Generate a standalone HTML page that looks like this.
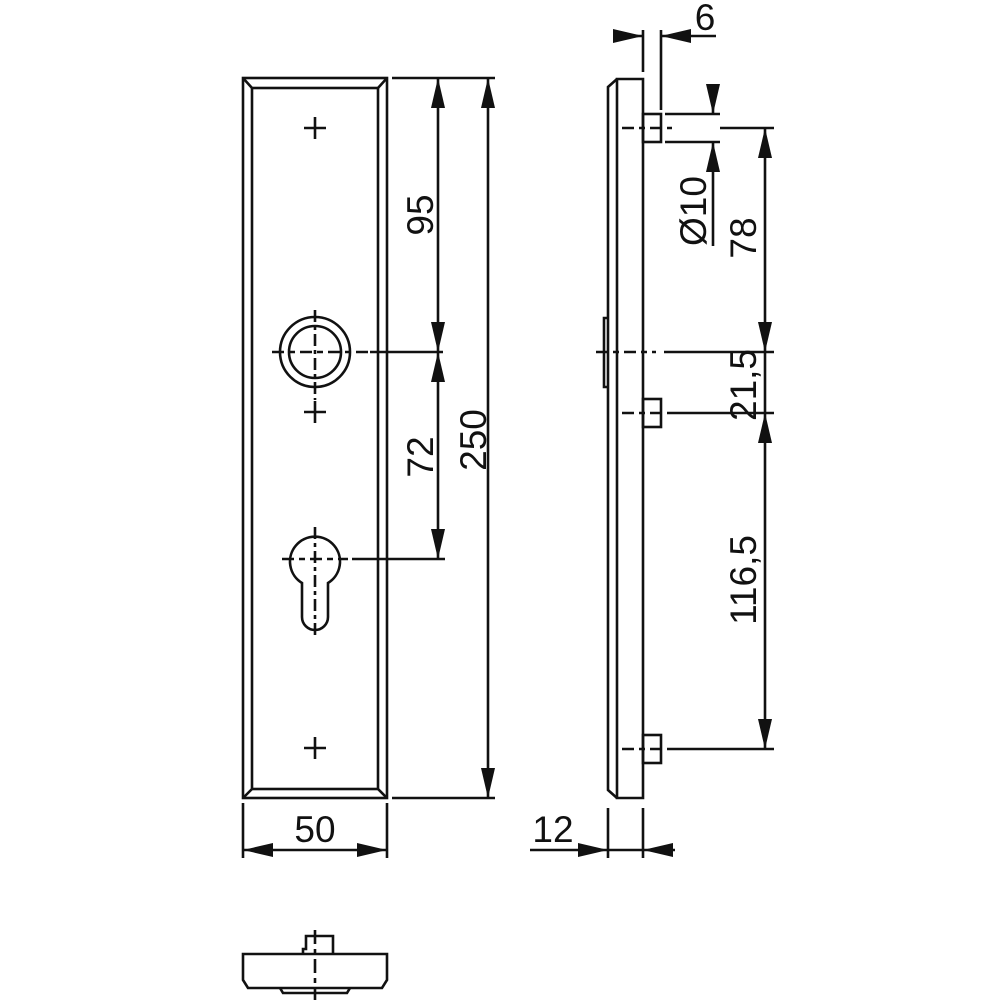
<!DOCTYPE html>
<html><head><meta charset="utf-8"><style>
html,body{margin:0;padding:0;background:#fff;}
svg{display:block;}
text{font-family:"Liberation Sans",Arial,sans-serif;font-size:37px;fill:#111;}
</style></head><body>
<svg width="1000" height="1000" viewBox="0 0 1000 1000" xmlns="http://www.w3.org/2000/svg">
<defs>
<marker id="a" viewBox="0 0 30 14" refX="30" refY="7" markerWidth="30" markerHeight="14" markerUnits="userSpaceOnUse" orient="auto-start-reverse">
<path d="M0,0 L30,7 L0,14 z" fill="#111"/></marker>
</defs>
<g stroke="#111" stroke-width="2.6" fill="none">
<!-- front plate -->
<rect x="243" y="78" width="144" height="720"/>
<rect x="252" y="88" width="126" height="701"/>
<path d="M243,78 L252,88 M387,78 L378,88 M243,798 L252,789 M387,798 L378,789"/>
<!-- crosses -->
<path d="M304,128 h22 M315,117 v22 M304,412 h22 M315,401 v22 M304,748 h22 M315,737 v22"/>
<!-- rosette -->
<circle cx="315" cy="352" r="35"/>
<circle cx="315" cy="352" r="26"/>
<path d="M315,310 v90" stroke-dasharray="12,4,4,4"/>
<path d="M272,352 h98" stroke-dasharray="12,5,6,5"/>
<path d="M370,352 h73"/>
<!-- cylinder -->
<path d="M302,583 A25,25 0 1 1 328,583 L328,617 A13,13 0 0 1 302,617 Z"/>
<path d="M315,527 v110" stroke-dasharray="12,4,4,4"/>
<path d="M282,559 h66" stroke-dasharray="12,5,6,5"/>
<path d="M352,559 h93"/>
<!-- vertical dims left -->
<path d="M392,78 h103 M392,798 h103"/>
<path d="M438,78 V352" marker-start="url(#a)" marker-end="url(#a)"/>
<path d="M438,352 V559" marker-start="url(#a)" marker-end="url(#a)"/>
<path d="M488,78 V798" marker-start="url(#a)" marker-end="url(#a)"/>
<!-- 50 dim -->
<path d="M243,803 v55 M387,803 v55"/>
<path d="M243,850 H387" marker-start="url(#a)" marker-end="url(#a)"/>
<!-- side view -->
<path d="M617,79 H643 V798 H617 Z"/>
<path d="M617,79 L608,87 V790 L617,798"/>
<path d="M608,318 h-4 v69 h4"/>
<rect x="643" y="114" width="18" height="28"/>
<rect x="643" y="399" width="18" height="28"/>
<rect x="643" y="735" width="18" height="28"/>
<!-- center lines side -->
<path d="M596,352 h60" stroke-dasharray="12,5,6,5"/>
<path d="M664,352 h110"/>
<path d="M622,128 h50" stroke-dasharray="12,5,6,5"/>
<path d="M720,128 h54"/>
<path d="M622,413 h50" stroke-dasharray="12,5,6,5"/>
<path d="M672,413 h102"/>
<path d="M622,749 h50" stroke-dasharray="12,5,6,5"/>
<path d="M672,749 h102"/>
<!-- 6 dim -->
<path d="M643,30 v42 M661,30 v80"/>
<path d="M613,36 H643" marker-end="url(#a)"/>
<path d="M716,36 H661" marker-end="url(#a)"/>
<!-- Ø10 -->
<path d="M665,114 h55 M665,142 h55"/>
<path d="M713,84 V114" marker-end="url(#a)"/>
<path d="M713,246 V142" marker-end="url(#a)"/>
<!-- 78 / 21,5 / 116,5 -->
<path d="M765,128 V352" marker-start="url(#a)" marker-end="url(#a)"/>
<path d="M765,413 V749" marker-start="url(#a)" marker-end="url(#a)"/>
<path d="M765,352 V413"/>
<!-- 12 dim -->
<path d="M608,808 v50 M643,808 v50"/>
<path d="M530,850 H608" marker-end="url(#a)"/>
<path d="M675,850 H643" marker-end="url(#a)"/>
<path d="M608,850 H643"/>
<!-- bottom view -->
<path d="M243,954 H387 V980 L382,988 H248 L243,980 Z"/>
<path d="M280,988 l3,5 h64 l3,-5"/>
<path d="M303,953 v-4 h3 v-13 h27 v18"/>
<path d="M315,930 v70" stroke-dasharray="14,5,5,5"/>
</g>
<g>
<text x="315" y="842" text-anchor="middle">50</text>
<text x="553" y="842" text-anchor="middle">12</text>
<text x="705" y="30" text-anchor="middle">6</text>
<text transform="translate(433,215) rotate(-90)" text-anchor="middle">95</text>
<text transform="translate(433,457) rotate(-90)" text-anchor="middle">72</text>
<text transform="translate(486,440) rotate(-90)" text-anchor="middle">250</text>
<text transform="translate(706,211) rotate(-90)" text-anchor="middle">Ø10</text>
<text transform="translate(756,238) rotate(-90)" text-anchor="middle">78</text>
<text transform="translate(756,385) rotate(-90)" text-anchor="middle">21,5</text>
<text transform="translate(756,580) rotate(-90)" text-anchor="middle">116,5</text>
</g>
</svg>
</body></html>
